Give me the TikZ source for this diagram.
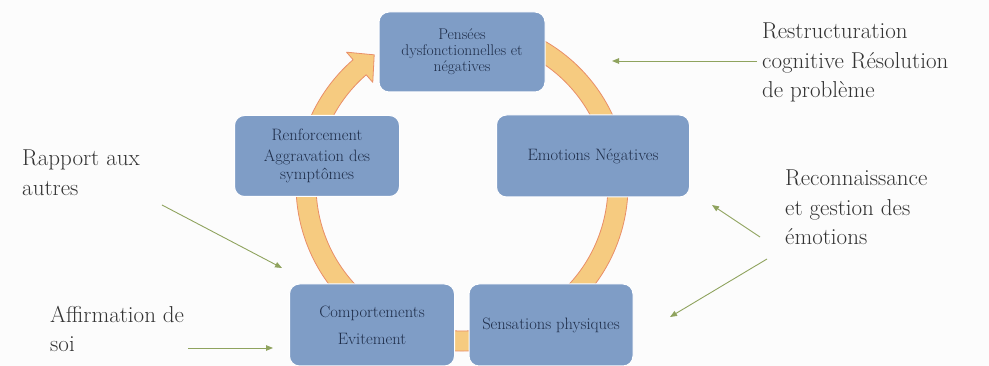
\documentclass[tikz,border=0pt]{standalone}
\usepackage{tikz}
\usepackage{xcolor}
\usetikzlibrary{arrows.meta}

\definecolor{boxblue}{HTML}{7F9DC6}
\definecolor{boxtext}{HTML}{1F2E4A}
\definecolor{bandfill}{HTML}{F6CB80}
\definecolor{bandline}{HTML}{E98E68}
\definecolor{hintgreen}{HTML}{8FA35E}
\definecolor{labeltext}{HTML}{333333}

\tikzset{
    box/.style={rounded corners=10pt,fill=boxblue,draw=white,line width=1pt,align=center,
        text=boxtext,font=\fontsize{16.5}{18}\selectfont,inner sep=2pt},
    band/.style={fill=bandfill,draw=bandline,line width=0.8pt,line join=round},
    hint/.style={draw=hintgreen,line width=0.9pt,-{Triangle[length=7pt,width=5.5pt]}},
    remark/.style={anchor=north west,align=left,inner sep=0pt,text=labeltext,
        font=\fontsize{23}{29.5}\selectfont}
}

\begin{document}
\begin{tikzpicture}[x=1pt,y=1pt]
                        \fill[white!97!black!40] (0,0) rectangle (989,366);
                        \useasboundingbox (0,0) rectangle (989,366);

                        % the cycle
                        \begin{scope}[shift={(462,181)}]
                            \filldraw[band] (100:166) arc[start angle=100,end angle=-229,radius=166]
                                -- (-229:176) -- (-236:157) -- (-229:136) -- (-229:146)
                                arc[start angle=-229,end angle=100,radius=146] -- cycle;
                        \end{scope}

                        \node (think) at (462,314) [box,minimum width=166,minimum height=80,font=\fontsize{15.5}{16}\selectfont] {Pensées\\dysfonctionnelles et\\négatives};
                        \node (feel) at (593,210) [box,minimum width=193,minimum height=82] {Emotions Négatives};
                        \node (body) at (551,41) [box,minimum width=164,minimum height=82] {Sensations physiques};
                        \node (act) at (372,41) [box,minimum width=165,minimum height=82] {Comportements\\[9pt]Evitement};
                        \node (loop) at (317,210) [box,minimum width=165,minimum height=81] {Renforcement\\[3pt]Aggravation des\\symptômes};

                        % what helps
                        \node (restr) at (762,343) [remark] {Restructuration\\cognitive Résolution\\de problème};
                        \node (recon) at (785,196) [remark] {Reconnaissance\\et gestion des\\émotions};
                        \node (rapp) at (22,216) [remark] {Rapport aux\\autres};
                        \node (affirm) at (50,60) [remark] {Affirmation de\\soi};

                        \coordinate (r1) at (612,305);
                        \coordinate (e1) at (712,161);
                        \coordinate (e2) at (670,49);
                        \coordinate (a1) at (282,98);
                        \coordinate (a2) at (273,18);

                        \draw[hint] (restr.west |- r1) ++(-5,0) -- (r1);
                        \draw[hint] (760,129) -- (e1);
                        \draw[hint] (767,107) -- (e2);
                        \draw[hint] (162,161) -- (a1);
                        \draw[hint] (188,18) -- (a2);
                \end{tikzpicture}
\end{document}
